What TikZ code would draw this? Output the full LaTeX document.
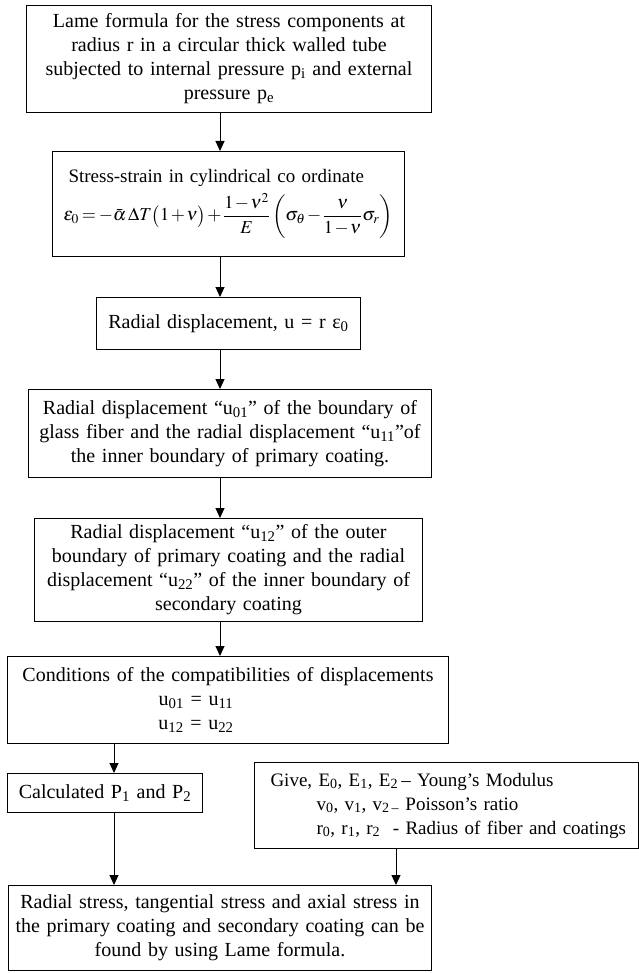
\documentclass[tikz,border=0pt]{standalone}
\usepackage{amsmath}
\usepackage{mathptmx}
\usepackage{fontspec}
\setmainfont{Liberation Serif}
\usetikzlibrary{arrows.meta}
\newcommand{\sbs}[1]{\textsubscript{#1}}
\tikzset{
  boxst/.style={draw, line width=1pt, inner sep=0pt, align=center, anchor=north west,
    font=\fontsize{20}{24}\selectfont},
  arr/.style={-{Triangle[length=10pt,width=9pt]}, line width=1pt}
}
\begin{document}
\begin{tikzpicture}[x=1pt,y=-1pt]
\useasboundingbox (0,0) rectangle (638,973);
\node[boxst, minimum width=405pt, text width=405pt, minimum height=107pt] (b1) at (26,5)
 {Lame formula for the stress components at\\ radius r in a circular thick walled tube\\
  subjected to internal pressure p\sbs{i} and external\\ pressure p\sbs{e}};
\node[boxst, align=left, inner xsep=11pt, text width=330pt, minimum height=105pt,
  font=\fontsize{19}{24}\selectfont] (b2) at (52,151)
 {\hspace*{5pt}Stress-strain in cylindrical co ordinate\\[5pt]
  \scalebox{0.96}{\thickmuskip=3mu\medmuskip=1.5mu$\varepsilon_0=-\bar{\alpha}\,\Delta T\bigl(1+\nu\bigr)+\dfrac{1-\nu^2}{E}\left(\sigma_\theta-\dfrac{\nu}{1-\nu}\sigma_r\right)$}};
\node[boxst, minimum width=264pt, text width=264pt, minimum height=52pt] (b3) at (96,297)
 {Radial displacement, u = r ε\sbs{0}};
\node[boxst, minimum width=403pt, text width=403pt, minimum height=88pt] (b4) at (28,389)
 {Radial displacement “u\sbs{01}” of the boundary of\\
  glass fiber and the radial displacement “u\sbs{11}”of\\
  the inner boundary of primary coating.};
\node[boxst, minimum width=388pt, text width=388pt, minimum height=103pt] (b5) at (34,518)
 {Radial displacement “u\sbs{12}” of the outer\\
  boundary of primary coating and the radial\\
  displacement “u\sbs{22}” of the inner boundary of\\
  secondary coating};
\node[boxst, minimum width=441pt, text width=441pt, minimum height=87pt] (b6) at (7,656)
 {Conditions of the compatibilities of displacements\\
  u\sbs{01} = u\sbs{11}\hspace{64pt}\mbox{}\\
  u\sbs{12} = u\sbs{22}\hspace{64pt}\mbox{}};
\node[boxst, minimum width=195pt, text width=195pt, minimum height=39pt] (b7) at (7,773)
 {Calculated P\sbs{1} and P\sbs{2}};
\node[boxst, align=left, inner xsep=16pt, text width=352pt, minimum height=86pt,
  font=\fontsize{19}{24}\selectfont] (g) at (254,762)
 {\mbox{Give, E\sbs{0}, E\sbs{1}, E\sbs{2}\,– Young’s Modulus}\\
  \mbox{\hspace*{46pt}v\sbs{0}, v\sbs{1}, v\sbs{2\,–} Poisson’s ratio}\\
  \mbox{\hspace*{46pt}r\sbs{0}, r\sbs{1}, r\sbs{2}~~- Radius of fiber and coatings}};
\node[boxst, minimum width=423pt, text width=423pt, minimum height=85pt] (b8) at (8,885)
 {Radial stress, tangential stress and axial stress in\\
  the primary coating and secondary coating can be\\
  found by using Lame formula.};
\coordinate (mx) at (220,0);
\coordinate (lx) at (114,0);
\coordinate (gx) at (396,0);
\draw[arr] (b1.south -| mx) -- (b2.north -| mx);
\draw[arr] (b2.south -| mx) -- (b3.north -| mx);
\draw[arr] (b3.south -| mx) -- (b4.north -| mx);
\draw[arr] (b4.south -| mx) -- (b5.north -| mx);
\draw[arr] (b5.south -| mx) -- (b6.north -| mx);
\draw[arr] (b6.south -| lx) -- (b7.north -| lx);
\draw[arr] (b7.south -| lx) -- (b8.north -| lx);
\draw[arr] (g.south -| gx) -- (b8.north -| gx);
\end{tikzpicture}
\end{document}
